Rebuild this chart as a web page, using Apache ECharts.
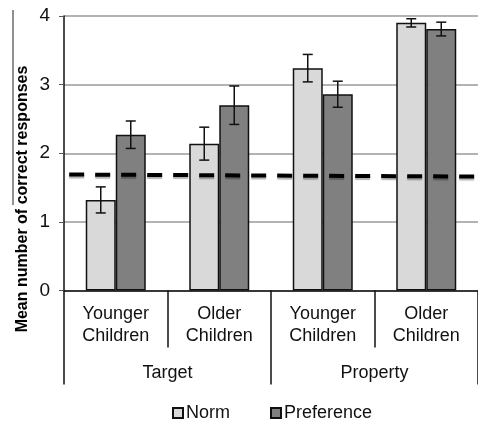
<!DOCTYPE html>
<html>
<head>
<meta charset="utf-8">
<script src="https://cdn.jsdelivr.net/npm/echarts@6/dist/echarts.min.js"></script>
<style>html,body{margin:0;padding:0;background:#fff}#c{width:478px;height:421px}</style>
</head>
<body>
<div id="c"></div>
<script>
var categories = ["Younger\nChildren", "Older\nChildren", "Younger\nChildren", "Older\nChildren"];
var groups = ["Target", "Property"];
var normValues = [1.32, 2.14, 3.24, 3.90];
var normErr = [0.19, 0.24, 0.20, 0.06];
var prefValues = [2.27, 2.70, 2.86, 3.81];
var prefErr = [0.20, 0.28, 0.19, 0.10];
var chanceLine = [[0.05, 1.69], [4, 1.66]];
var yTicks = [0, 1, 2, 3, 4];
var yTitle = "Mean number of correct responses";

var FONT = "Liberation Sans, Arial, sans-serif";
var BAR_W = 30;

function errSeries(name, vals, errs, side) {
  return {
    type: 'custom',
    name: name + ' err',
    xAxisIndex: 0,
    yAxisIndex: 0,
    z: 5,
    silent: true,
    data: vals.map(function (v, i) { return [i, v - errs[i], v + errs[i]]; }),
    renderItem: function (params, api) {
      var i = api.value(0);
      var lo = api.coord([i, api.value(1)]);
      var hi = api.coord([i, api.value(2)]);
      var x = lo[0] + side * BAR_W / 2;
      var cap = 5;
      var st = { stroke: '#111', lineWidth: 1.5, fill: null };
      return {
        type: 'group',
        children: [
          { type: 'line', shape: { x1: x, y1: lo[1], x2: x, y2: hi[1] }, style: st },
          { type: 'line', shape: { x1: x - cap, y1: lo[1], x2: x + cap, y2: lo[1] }, style: st },
          { type: 'line', shape: { x1: x - cap, y1: hi[1], x2: x + cap, y2: hi[1] }, style: st }
        ]
      };
    }
  };
}

var chart = echarts.init(document.getElementById('c'), null, { renderer: 'canvas' });
chart.setOption({
  animation: false,
  backgroundColor: '#fff',
  textStyle: { fontFamily: FONT },
  grid: { left: 64, top: 16, width: 419, height: 274.5, containLabel: false },
  legend: {
    data: ['Norm', 'Preference'],
    left: 172, top: 404, padding: 0,
    icon: 'rect', itemWidth: 10, itemHeight: 10, itemGap: 40,
    textStyle: { fontFamily: FONT, fontSize: 18, color: '#111', padding: [0, 0, 0, -2] }
  },
  xAxis: [
    {
      type: 'category', data: categories, position: 'bottom',
      axisLine: { lineStyle: { color: '#111', width: 1.5 } },
      axisTick: { show: true, interval: 0, length: 57, lineStyle: { color: '#111', width: 1.5 } },
      axisLabel: { interval: 0, margin: 13, fontSize: 18, lineHeight: 22, color: '#111', fontFamily: FONT }
    },
    {
      type: 'category', data: groups, position: 'bottom',
      axisLine: { show: false },
      axisTick: { show: true, interval: 0, length: 94, lineStyle: { color: '#111', width: 1.5 } },
      axisLabel: { interval: 0, margin: 74, fontSize: 18, color: '#111', fontFamily: FONT },
      splitLine: { show: false }
    },
    { type: 'value', min: 0, max: 4, show: false }
  ],
  yAxis: {
    type: 'value', min: 0, max: 4, interval: 1,
    axisLine: { show: true, lineStyle: { color: '#111', width: 1.5 } },
    axisTick: { show: true, length: 5, lineStyle: { color: '#555', width: 1 } },
    axisLabel: { margin: 14, fontSize: 19, color: '#111', fontFamily: FONT,
      formatter: function (v) { return yTicks.indexOf(v) >= 0 ? String(v) : ''; } },
    splitLine: { show: true, lineStyle: { color: '#9a9a9a', width: 1.5 } }
  },
  series: [
    {
      name: 'Norm', type: 'bar', data: normValues, barWidth: BAR_W, barGap: '0%',
      itemStyle: { color: '#d9d9d9', borderColor: '#111', borderWidth: 1.5 }
    },
    {
      name: 'Preference', type: 'bar', data: prefValues, barWidth: BAR_W, barGap: '0%',
      itemStyle: { color: '#808080', borderColor: '#111', borderWidth: 1.5 }
    },
    errSeries('Norm', normValues, normErr, -1),
    errSeries('Preference', prefValues, prefErr, 1),
    {
      name: 'chance', type: 'line', xAxisIndex: 2, data: chanceLine, symbol: 'none', z: 4, silent: true,
      lineStyle: { color: '#000', width: 4, type: [15, 11], cap: 'butt',
        shadowColor: 'rgba(0,0,0,0.3)', shadowOffsetY: 2, shadowBlur: 1 }
    }
  ],
  graphic: [
    {
      type: 'text', x: 23, y: 199, rotation: Math.PI / 2,
      style: { text: yTitle, font: 'bold 16px ' + FONT, fill: '#000', align: 'center', verticalAlign: 'middle' }
    },
    {
      type: 'line', shape: { x1: 13, y1: 10, x2: 13, y2: 205 }, style: { stroke: '#222', lineWidth: 1 }
    }
  ]
});
</script>
</body>
</html>
